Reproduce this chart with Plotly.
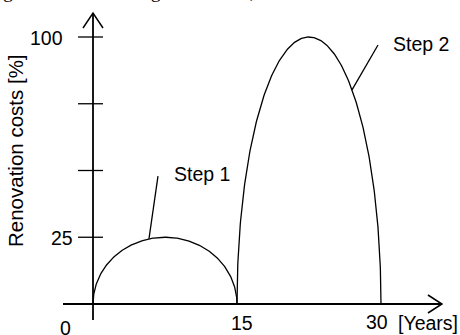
import numpy as np
import plotly.graph_objects as go

# ---------------- data ----------------
steps = ["Step 1", "Step 2"]
step_start = [0, 15]          # years
step_end = [15, 30]           # years
step_peak = [25, 100]         # renovation costs [%]

year_ticks = [0, 15, 30]
year_tick_labels = ["0", "15", "30"]
year_unit_label = "[Years]"

cost_ticks = [25, 50, 75, 100]
cost_tick_labels = ["25", "", "", "100"]
y_title = "Renovation costs [%]"
cut_text = "ight out with the height of 100 %, as is shown in"

# ---------------- layout constants (pixels) ----------------
W, H = 460, 335
ORG_X, ORG_Y = 93, 304          # pixel position of the origin
PX_X, PX_Y = 9.6, 2.67          # pixels per year / per percent
FONT = "Liberation Sans, Arial, sans-serif"
FS = 19.5

def ux(px):   # pixel distance -> years
    return px / PX_X

def uy(px):   # pixel distance -> percent
    return px / PX_Y

x_range = [-ORG_X / PX_X, (W - ORG_X) / PX_X]
y_range = [-(H - ORG_Y) / PX_Y, ORG_Y / PX_Y]

fig = go.Figure()

# x axis line with open arrow
x_left, x_tip = -ux(30), 36.35
fig.add_trace(go.Scatter(x=[x_left, x_tip], y=[0, 0], mode="lines",
                         line=dict(color="black", width=1.8), hoverinfo="skip"))
fig.add_trace(go.Scatter(x=[x_tip - ux(14), x_tip, x_tip - ux(14)],
                         y=[uy(9), 0, -uy(9)], mode="lines",
                         line=dict(color="black", width=1.5), hoverinfo="skip"))
# y axis line with open arrow
y_bot, y_tip = -uy(16), uy(ORG_Y - 13)
fig.add_trace(go.Scatter(x=[0, 0], y=[y_bot, y_tip], mode="lines",
                         line=dict(color="black", width=1.8), hoverinfo="skip"))
fig.add_trace(go.Scatter(x=[-ux(10), 0, ux(10)],
                         y=[y_tip - uy(15), y_tip, y_tip - uy(15)], mode="lines",
                         line=dict(color="black", width=1.5), hoverinfo="skip"))
# y tick marks crossing the axis
for v in cost_ticks:
    fig.add_trace(go.Scatter(x=[-ux(15), ux(10)], y=[v, v], mode="lines",
                             line=dict(color="black", width=1.3), hoverinfo="skip"))

# half-ellipse renovation curves
theta = np.linspace(0, np.pi, 241)
for s, e, p in zip(step_start, step_end, step_peak):
    c, a = (s + e) / 2, (e - s) / 2
    fig.add_trace(go.Scatter(x=c - a * np.cos(theta), y=p * np.sin(theta),
                             mode="lines", line=dict(color="black", width=1.3),
                             hoverinfo="skip"))

# leader lines to step labels (attached to curve points)
leader_attach_x = [5.83, 26.98]
leader_end = [(6.77, 47.9), (29.69, 97.0)]
label_pos = [(8.2, 48.7), (31.0, 97.4)]
for i, name in enumerate(steps):
    s, e, p = step_start[i], step_end[i], step_peak[i]
    c, a = (s + e) / 2, (e - s) / 2
    xa = leader_attach_x[i]
    ya = p * np.sqrt(max(0.0, 1 - ((xa - c) / a) ** 2))
    fig.add_trace(go.Scatter(x=[xa, leader_end[i][0]], y=[ya, leader_end[i][1]],
                             mode="lines", line=dict(color="black", width=1.3),
                             hoverinfo="skip"))
    fig.add_annotation(x=label_pos[i][0], y=label_pos[i][1], text=name,
                       showarrow=False, xanchor="left", yanchor="middle",
                       font=dict(family=FONT, size=FS, color="black"))

# tick labels
ylab_right = {25: -ux(18), 100: -ux(28)}
for v, t in zip(cost_ticks, cost_tick_labels):
    if t:
        fig.add_annotation(x=ylab_right[v], y=v + uy(-1), text=t, showarrow=False,
                           xanchor="right", yanchor="middle",
                           font=dict(family=FONT, size=FS, color="black"))
xlab_pos = {0: (-ux(27.5), -uy(23.5)), 15: (15.47, -uy(19)), 30: (29.6, -uy(18))}
for v, t in zip(year_ticks, year_tick_labels):
    fig.add_annotation(x=xlab_pos[v][0], y=xlab_pos[v][1], text=t, showarrow=False,
                       xanchor="center", yanchor="middle",
                       font=dict(family=FONT, size=FS, color="black"))
fig.add_annotation(x=31.6, y=-uy(19), text=year_unit_label, showarrow=False,
                   xanchor="left", yanchor="middle",
                   font=dict(family=FONT, size=FS, color="black"))

# y axis title (rotated)
fig.add_annotation(x=-ux(ORG_X - 15), y=uy(ORG_Y - 151), text=y_title, textangle=-90,
                   showarrow=False, xanchor="center", yanchor="middle",
                   font=dict(family=FONT, size=20.5, color="black"))

# cut-off line of document text at the very top
fig.add_annotation(xref="paper", yref="paper", x=0, y=1, text=cut_text,
                   showarrow=False, xanchor="left", yanchor="bottom",
                   xshift=-4, yshift=-4,
                   font=dict(family="Liberation Serif, Times New Roman, serif",
                             size=19, color="black"))

fig.update_layout(
    width=W, height=H, autosize=False,
    margin=dict(l=0, r=0, t=0, b=0),
    paper_bgcolor="white", plot_bgcolor="white",
    showlegend=False,
    xaxis=dict(range=x_range, visible=False, fixedrange=True),
    yaxis=dict(range=y_range, visible=False, fixedrange=True),
)

fig.write_html("out.html", config={"displayModeBar": False},
               post_script="document.body.style.margin='0px';"
                           "document.body.style.overflow='hidden';")
